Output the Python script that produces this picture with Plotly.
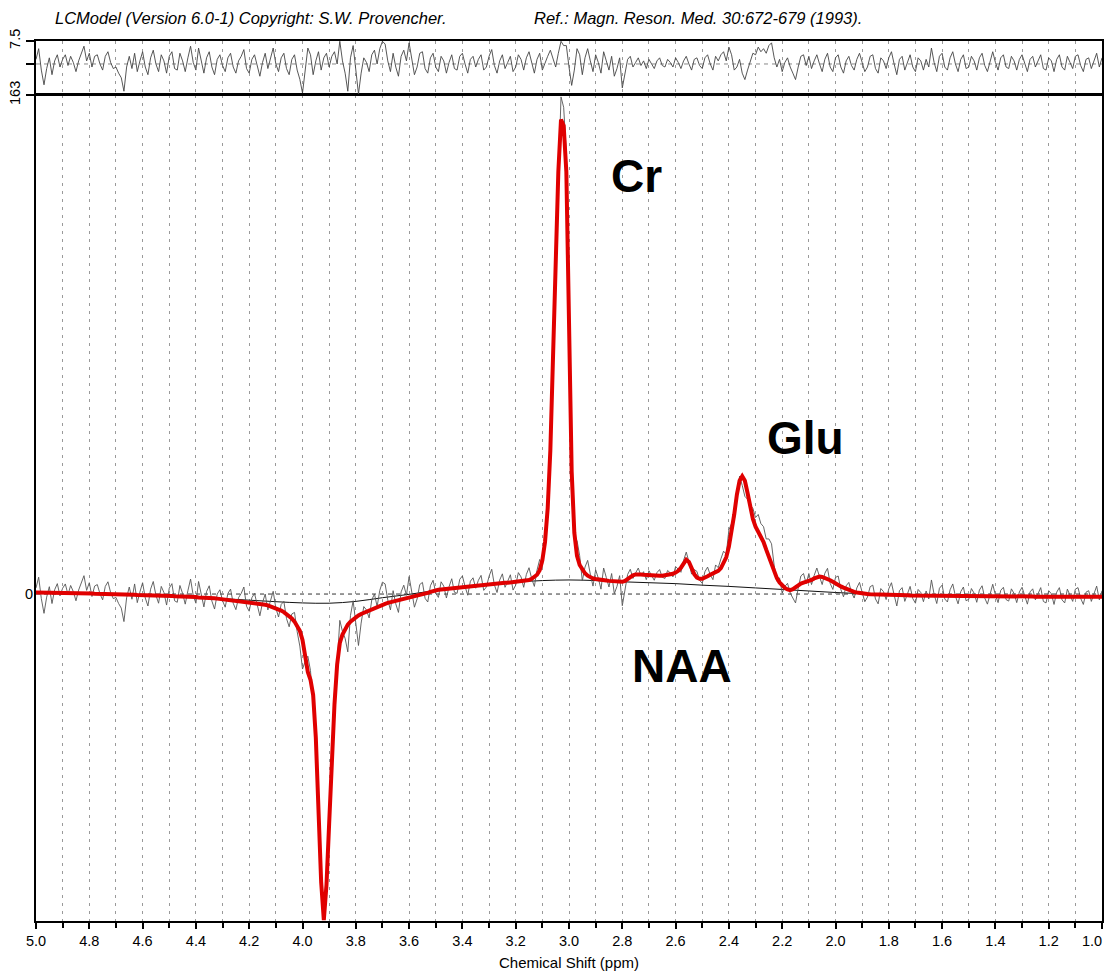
import numpy as np
import plotly.graph_objects as go

# Chemical-shift sample grid (ppm), 5.00 -> 1.00 in 0.01 steps
ppm = np.round(np.linspace(5.0, 1.0, 401), 2)

# LCModel fit (red), one row per 0.1 ppm
fit = [
    0.5, 0.5, 0.5, 0.5, 0.5, 0.4, 0.4, 0.4, 0.4, 0.4,
    0.4, 0.3, 0.3, 0.3, 0.3, 0.3, 0.3, 0.2, 0.2, 0.2,
    0.2, 0.2, 0.1, 0.1, 0.1, 0.1, 0.0, 0.0, 0.0, 0.0,
    -0.1, -0.1, -0.1, -0.1, -0.2, -0.2, -0.2, -0.2, -0.3, -0.3,
    -0.3, -0.3, -0.4, -0.4, -0.4, -0.4, -0.5, -0.5, -0.5, -0.6,
    -0.6, -0.6, -0.7, -0.7, -0.7, -0.8, -0.8, -0.9, -0.9, -1.0,
    -1.0, -1.1, -1.1, -1.2, -1.2, -1.3, -1.3, -1.4, -1.5, -1.6,
    -1.7, -1.8, -1.8, -1.9, -2.0, -2.1, -2.2, -2.3, -2.4, -2.5,
    -2.6, -2.7, -2.8, -3.0, -3.1, -3.3, -3.5, -3.7, -4.0, -4.3,
    -4.6, -5.0, -5.4, -5.9, -6.5, -7.2, -8.0, -9.0, -10.3, -12.0,
    -15.0, -20.0, -25.5, -28.0, -33.0, -47.0, -70.0, -94.0, -106.5, -95.0,
    -75.0, -53.0, -36.0, -23.0, -16.0, -13.2, -11.5, -10.0, -9.0, -8.2,
    -7.5, -7.0, -6.5, -6.1, -5.7, -5.3, -4.9, -4.5, -4.1, -3.8,
    -3.5, -3.2, -2.9, -2.7, -2.4, -2.2, -2.0, -1.8, -1.6, -1.4,
    -1.2, -1.0, -0.8, -0.6, -0.4, -0.2, 0.1, 0.4, 0.7, 1.0,
    1.3, 1.4, 1.5, 1.6, 1.7, 1.9, 2.0, 2.1, 2.2, 2.3,
    2.4, 2.5, 2.6, 2.7, 2.8, 2.9, 3.0, 3.1, 3.2, 3.3,
    3.3, 3.4, 3.5, 3.5, 3.6, 3.6, 3.7, 3.7, 3.8, 3.8,
    3.9, 4.0, 4.1, 4.2, 4.4, 4.6, 5.0, 5.5, 6.3, 7.8,
    11.0, 17.0, 28.0, 47.0, 77.0, 110.0, 138.0, 155.0, 153.0, 138.0,
    90.0, 40.0, 20.0, 12.5, 9.5, 7.8, 6.8, 6.0, 5.5, 5.1,
    4.9, 4.7, 4.6, 4.5, 4.4, 4.3, 4.2, 4.1, 4.0, 4.0,
    4.0, 4.3, 4.9, 5.6, 6.1, 6.4, 6.5, 6.4, 6.3, 6.2,
    6.1, 6.0, 6.0, 6.0, 6.0, 6.0, 6.1, 6.2, 6.4, 6.6,
    7.0, 7.6, 8.6, 10.0, 11.2, 10.5, 8.5, 6.5, 5.4, 5.0,
    5.0, 5.3, 5.8, 6.3, 6.7, 7.0, 7.6, 8.5, 10.0, 12.0,
    15.5, 20.0, 26.0, 32.5, 37.0, 38.5, 37.0, 33.0, 28.0, 24.5,
    22.0, 20.5, 19.0, 17.0, 14.5, 12.0, 9.5, 7.2, 5.2, 3.8,
    2.8, 2.0, 1.5, 1.3, 1.6, 2.2, 2.9, 3.4, 3.7, 3.9,
    4.2, 4.6, 5.1, 5.5, 5.7, 5.6, 5.3, 4.9, 4.5, 4.0,
    3.4, 2.9, 2.5, 2.1, 1.7, 1.3, 1.0, 0.7, 0.5, 0.3,
    0.1, 0.0, 0.0, -0.1, -0.1, -0.1, -0.2, -0.2, -0.2, -0.3,
    -0.3, -0.3, -0.3, -0.4, -0.4, -0.4, -0.4, -0.4, -0.5, -0.5,
    -0.5, -0.5, -0.5, -0.5, -0.5, -0.6, -0.6, -0.6, -0.6, -0.6,
    -0.6, -0.6, -0.6, -0.6, -0.7, -0.7, -0.7, -0.7, -0.7, -0.7,
    -0.7, -0.7, -0.7, -0.7, -0.7, -0.8, -0.8, -0.8, -0.8, -0.8,
    -0.8, -0.8, -0.8, -0.8, -0.8, -0.8, -0.8, -0.8, -0.8, -0.8,
    -0.8, -0.8, -0.8, -0.8, -0.8, -0.9, -0.9, -0.9, -0.9, -0.9,
    -0.9, -0.9, -0.9, -0.9, -0.9, -0.9, -0.9, -0.9, -0.9, -0.9,
    -0.9, -0.9, -0.9, -0.9, -0.9, -0.9, -0.9, -0.9, -0.9, -0.9,
    -0.9,
]

# Residual (data - fit), same grid
residual = [
    1.5, 5.0, -2.0, -6.8, -1.5, 2.0, -3.5, 1.0, 3.0, -1.0,
    1.5, 3.0, -0.5, 2.5, 0.5, -2.5, 1.0, 3.5, 5.8, 1.0,
    3.5, -1.0, 2.5, 3.0, 0.0, -2.0, 2.5, 4.0, 0.5, -1.5,
    -1.0, -3.0, -4.5, -8.9, -1.0, 2.5, -1.5, 3.5, -2.5, 1.0,
    4.0, -1.0, -3.5, 2.0, 4.5, 0.0, -2.5, 3.0, 1.0, -3.0,
    2.5, 4.0, -1.5, -2.0, 3.5, 1.0, -2.5, 2.0, 5.8, 0.5,
    -2.0, 5.2, 1.0, -3.0, 2.0, 4.0, -1.0, -3.5, 1.5, 3.0,
    -0.5, -2.5, 2.0, 3.5, -1.0, -3.0, 1.0, 2.5, 4.7, -1.5,
    -3.0, 1.5, 3.0, -1.0, -4.0, 0.5, 3.5, -1.5, 2.0, 5.2,
    0.0, -2.5, 2.0, 3.5, -1.5, -3.5, 1.5, 3.0, -2.0, -5.0,
    -9.5, -2.0, 5.2, 3.0, -3.5, 1.0, 4.0, -2.0, 2.0, 3.5,
    -1.0, 2.5, 4.0, 0.0, 7.4, 1.0, -3.0, -8.9, 2.0, 6.0,
    -2.0, -9.8, -3.0, 2.0, 0.5, -2.5, 3.0, 4.5, 0.0, 5.0,
    7.4, 6.5, 1.0, -2.5, 3.5, -1.0, -4.0, 2.5, 4.5, 1.0,
    6.9, 2.0, -3.5, -1.0, 3.5, 4.0, -1.5, -3.0, 2.0, 3.5,
    -1.0, -2.5, 2.5, 1.0, -3.0, 0.5, 3.0, -1.5, -2.0, 2.5,
    3.5, 0.0, -3.0, 1.5, 2.5, -1.0, 1.5, 3.0, -2.0, -1.0,
    2.5, 4.7, -0.5, -3.0, 1.0, 3.0, -1.5, 0.5, 2.5, -2.5,
    -1.0, 3.0, 1.5, -2.0, 2.0, 4.0, 0.0, -3.0, 1.5, 3.5,
    -2.0, 0.5, 2.5, 4.5, 2.0, -1.0, 3.5, 7.4, 6.0, 6.0,
    -1.0, -7.0, -2.0, 5.0, 3.0, -3.5, 2.0, 5.0, 1.0, -2.5,
    3.0, 0.5, -3.0, 4.0, 1.0, -2.0, 2.5, -4.0, -1.5, 2.0,
    -7.8, -3.0, 1.5, 2.5, -1.0, 0.5, 2.0, -0.5, 1.0, -1.5,
    1.5, 0.0, -1.5, 1.0, 2.0, -0.5, -1.0, 1.5, 0.5, -1.0,
    2.0, 0.5, -1.5, 1.0, 2.5, 0.0, -2.0, 1.5, 2.0, -0.5,
    -1.5, 2.0, 3.0, 0.0, -2.0, 2.5, 1.0, 3.0, 4.0, 1.0,
    5.5, 3.0, -2.0, -1.0, 1.5, -3.0, -5.1, -2.0, 1.0, 3.5,
    3.0, 5.5, 4.0, 5.0, 3.5, 6.0, 6.9, 2.0, -1.0, 1.5,
    -2.5, 0.5, 2.0, -1.0, -3.0, -5.1, -1.0, 2.5, 3.0, -0.5,
    2.5, -1.5, 1.0, 3.0, 0.0, -2.5, 1.5, 3.5, -1.0, -2.5,
    2.0, 3.0, -1.0, -3.0, 1.0, 2.5, -0.5, -2.0, 1.5, 3.5,
    0.5, -2.5, -1.0, 2.5, 3.0, -1.5, -3.0, 2.0, 1.0, -1.5,
    2.0, 4.0, 0.0, -3.5, 1.5, 2.5, -2.0, 0.5, 3.0, -1.0,
    -2.5, 2.0, 1.0, -2.0, 1.5, -1.0, 5.2, 0.5, -2.5, 2.5,
    3.5, -1.0, -2.0, 2.0, 4.0, 0.0, -2.5, 1.5, 3.0, -1.5,
    -1.0, 2.5, 1.0, -2.0, 2.0, 3.5, -0.5, -2.5, 1.0, 4.0,
    0.5, -2.0, 2.0, 3.0, -1.0, -1.5, 2.5, 1.0, -2.0, 1.5,
    3.0, 0.0, -2.5, 1.5, 2.5, -1.0, 1.0, 3.0, -1.5, -2.0,
    2.0, 1.0, -2.5, 1.5, 3.0, -1.0, -2.0, 2.5, 0.5, -1.5,
    2.5, 3.0, -0.5, -2.5, 1.5, 2.0, -1.5, 1.0, 3.5, -1.0,
    2.0,
]

# Measured spectrum = fit + residual (LCModel definition of the residual)
data_signal = [f + r for f, r in zip(fit, residual)]

# Baseline (thin black), every 0.1 ppm
baseline_ppm = np.round(np.linspace(5.0, 1.0, 41), 1)
baseline = [
    0.4, 0.3, 0.2, 0.0, -0.3, -0.6, -1.0, -1.5, -2.0, -2.5,
    -2.9, -3.0, -2.4, -1.2, -0.1, 1.2, 2.3, 3.2, 3.9, 4.4,
    4.6, 4.4, 4.0, 3.7, 3.4, 2.9, 2.5, 2.0, 1.5, 1.0,
    0.5, 0.1, -0.3, -0.5, -0.6, -0.7, -0.8, -0.8, -0.9, -0.9,
    -0.9,
]

# Axis tick labels
x_tick_vals = [5.0, 4.8, 4.6, 4.4, 4.2, 4.0, 3.8, 3.6, 3.4, 3.2, 3.0, 2.8, 2.6, 2.4, 2.2, 2.0, 1.8, 1.6, 1.4, 1.2, 1.0]
x_tick_text = ["5.0", "4.8", "4.6", "4.4", "4.2", "4.0", "3.8", "3.6", "3.4", "3.2", "3.0",
               "2.8", "2.6", "2.4", "2.2", "2.0", "1.8", "1.6", "1.4", "1.2", ""]

# Metabolite labels
labels = ["Cr", "Glu", "NAA"]
label_ppm = [2.747, 2.113, 2.575]
label_val = [136.6, 51.0, -23.5]

FONT = "Liberation Sans, Arial, sans-serif"

fig = go.Figure()
fig.add_trace(go.Scatter(x=baseline_ppm, y=baseline, mode="lines", line=dict(color="#111111", width=1, shape="spline"),
                         xaxis="x", yaxis="y", showlegend=False, hoverinfo="skip"))
fig.add_trace(go.Scatter(x=ppm, y=data_signal, mode="lines", line=dict(color="#555555", width=0.9),
                         xaxis="x", yaxis="y", showlegend=False))
fig.add_trace(go.Scatter(x=ppm, y=fit, mode="lines", line=dict(color="#e00000", width=4),
                         xaxis="x", yaxis="y", showlegend=False))
fig.add_trace(go.Scatter(x=ppm, y=residual, mode="lines", line=dict(color="#444444", width=0.9),
                         xaxis="x2", yaxis="y2", showlegend=False))

grid = dict(showgrid=True, gridcolor="#9a9a9a", gridwidth=1, griddash="3px,5px")

fig.update_layout(
    width=1106, height=973,
    margin=dict(l=36, r=2, t=41, b=52),
    paper_bgcolor="white", plot_bgcolor="white",
    font=dict(family=FONT, color="black", size=14.5),
    xaxis=dict(domain=[0, 1], anchor="y", range=[5.0, 1.0], tickmode="array",
               tickvals=x_tick_vals, ticktext=x_tick_text,
               ticks="outside", ticklen=6, tickwidth=1.5, tickcolor="black",
               showline=True, linecolor="black", linewidth=2, mirror=True, zeroline=False,
               title=dict(text="Chemical Shift (ppm)", font=dict(size=15), standoff=9),
               minor=dict(dtick=0.1, tick0=1.0, ticks="outside", ticklen=5, tickwidth=1.5, tickcolor="black",
                          showgrid=True, gridcolor="#9a9a9a", gridwidth=1, griddash="3px,5px"),
               **grid),
    xaxis2=dict(domain=[0, 1], anchor="y2", matches="x", showticklabels=False, ticks="",
                showline=True, linecolor="black", linewidth=2, mirror=True, zeroline=False,
                dtick=0.1, tick0=1.0, **grid),
    yaxis=dict(domain=[0, 0.9386], range=[-106.8, 163], tickvals=[163], ticktext=["163"],
               tickangle=-90, ticks="outside", ticklen=8, tickwidth=1.5, tickcolor="black",
               showgrid=False, zeroline=False, showline=True, linecolor="black", linewidth=2, mirror=True),
    yaxis2=dict(domain=[0.9398, 1], range=[-9.8, 7.5], tickvals=[0, 7.5], ticktext=["", "7.5"],
                tickangle=-90, ticks="outside", ticklen=8, tickwidth=1.5, tickcolor="black",
                showgrid=False, zeroline=False, showline=True, linecolor="black", linewidth=2, mirror=True),
    shapes=[
        dict(type="line", xref="paper", x0=0, x1=1, yref="y", y0=0, y1=0,
             line=dict(color="#333333", width=1, dash="4px,4px"), layer="below"),
        dict(type="line", xref="paper", x0=0, x1=1, yref="y2", y0=0, y1=0,
             line=dict(color="#888888", width=1, dash="4px,4px"), layer="below"),
    ],
)

annotations = [
    dict(text="LCModel (Version 6.0-1) Copyright: S.W. Provencher.", xref="paper", yref="paper",
         x=0.0159, y=1.0256, xanchor="left", yanchor="middle", showarrow=False,
         font=dict(family=FONT, size=16.5, style="italic", color="black")),
    dict(text="Ref.: Magn. Reson. Med. 30:672-679 (1993).", xref="paper", yref="paper",
         x=0.4654, y=1.0256, xanchor="left", yanchor="middle", showarrow=False,
         font=dict(family=FONT, size=16.5, style="italic", color="black")),
    # zero label of the main panel, close to the axis
    dict(text="0", xref="paper", yref="y", x=-0.0066, y=0, xanchor="center", yanchor="middle",
         showarrow=False, font=dict(family=FONT, size=14.5, color="black")),
    # last x tick label, kept inside the page
    dict(text="1.0", xref="paper", yref="paper", x=1.0019, y=-0.0232, xanchor="right", yanchor="middle",
         showarrow=False, font=dict(family=FONT, size=14.5, color="black")),
]
for t, xv, yv in zip(labels, label_ppm, label_val):
    annotations.append(dict(text="<b>%s</b>" % t, x=xv, y=yv, xref="x", yref="y", showarrow=False,
                            xanchor="center", yanchor="middle",
                            font=dict(family=FONT, size=46, color="black")))
fig.update_layout(annotations=annotations)

fig.write_html("out.html")
